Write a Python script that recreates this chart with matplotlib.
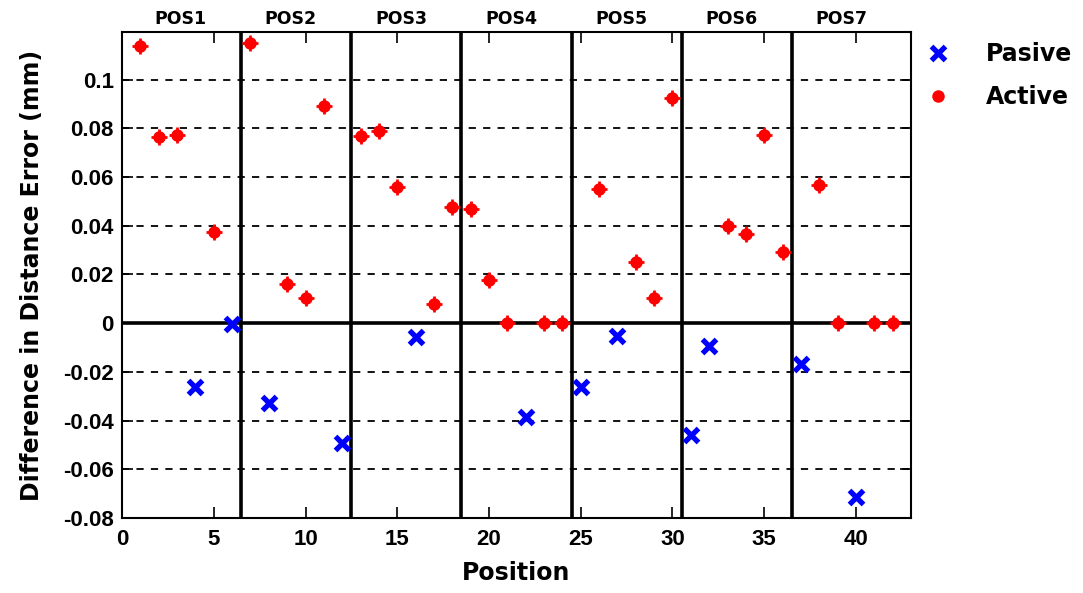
import matplotlib
matplotlib.use("Agg")
import matplotlib.pyplot as plt
import numpy as np

# Active (red) and Pasive (blue) differences per position
active_x = [1, 2, 3, 5, 7, 9, 10, 11, 13, 14, 15, 17, 18, 19, 20, 21, 23, 24,
            26, 28, 29, 30, 33, 34, 35, 36, 38, 39, 41, 42]
active_y = [0.1138, 0.0765, 0.0771, 0.0372, 0.1148, 0.0160, 0.0105, 0.0892,
            0.0770, 0.0788, 0.0560, 0.0078, 0.0477, 0.0470, 0.0176, 0.0,
            0.0, 0.0, 0.0551, 0.0249, 0.0104, 0.0926, 0.0397, 0.0364,
            0.0771, 0.0290, 0.0569, 0.0, 0.0, 0.0]
pasive_x = [4, 6, 8, 12, 16, 22, 25, 27, 31, 32, 37, 40]
pasive_y = [-0.0264, -0.0004, -0.0330, -0.0491, -0.0059, -0.0384, -0.0264,
            -0.0052, -0.0460, -0.0093, -0.0166, -0.0713]

group_bounds = [6.5, 12.5, 18.5, 24.5, 30.5, 36.5]
group_labels = ['POS1', 'POS2', 'POS3', 'POS4', 'POS5', 'POS6', 'POS7']
y_ticks = [-0.08, -0.06, -0.04, -0.02, 0, 0.02, 0.04, 0.06, 0.08, 0.1]
y_ticklabels = ['-0.08', '-0.06', '-0.04', '-0.02', '0', '0.02', '0.04', '0.06', '0.08', '0.1']

fig = plt.figure(figsize=(10.83, 5.93), dpi=100)
ax = fig.add_axes([0.1127, 0.1265, 0.7285, 0.8195])

ax.set_xlim(0, 43)
ax.set_ylim(-0.08, 0.1195)

# dashed horizontal grid
for yv in y_ticks:
    if yv != 0:
        ax.axhline(yv, color='black', linestyle=(0, (4, 4)), linewidth=1.3, zorder=1)
ax.axhline(0, color='black', linewidth=2.6, zorder=2)
for xb in group_bounds:
    ax.axvline(xb, color='black', linewidth=2.6, zorder=2)

ax.plot(pasive_x, pasive_y, linestyle='none', marker='x', color='blue',
        markersize=10, markeredgewidth=3.8, label='Pasive', zorder=3)
ax.plot(active_x, active_y, linestyle='none', marker='o', color='red',
        markersize=9, markeredgewidth=0, label='Active', zorder=3)
ax.plot(active_x, active_y, linestyle='none', marker='+', color='red',
        markersize=12, markeredgewidth=2, zorder=3)

tick_font = {'family': ['Liberation Sans Narrow', 'Liberation Sans'], 'weight': 'bold', 'size': 16}
ax.set_xticks(np.arange(0, 45, 5))
ax.set_xticklabels([str(v) for v in range(0, 45, 5)], fontdict=tick_font)
ax.set_yticks(y_ticks)
ax.set_yticklabels(y_ticklabels, fontdict=tick_font)
ax.tick_params(axis='both', direction='in', length=8, width=1.2, top=True, right=True)
ax.tick_params(axis='x', pad=8)
ax.tick_params(axis='y', pad=6)
for sp in ax.spines.values():
    sp.set_linewidth(1.5)

ax.set_xlabel('Position', fontsize=17, fontweight='bold', labelpad=8)
ax.set_ylabel('Difference in Distance Error (mm)', fontsize=17, fontweight='bold', labelpad=14)

for i, lab in enumerate(group_labels):
    ax.text(3.2 + 6 * i, 1.008, lab, transform=ax.get_xaxis_transform(),
            ha='center', va='bottom', fontsize=12.5, fontweight='bold')

handles, labels = ax.get_legend_handles_labels()
fig.legend(handles, labels, loc='upper left', bbox_to_anchor=(0.83, 0.965),
           frameon=False, prop={'size': 17, 'weight': 'bold'},
           handletextpad=1.3, labelspacing=0.8, handlelength=1.5)

fig.savefig('out.png', dpi=100)
